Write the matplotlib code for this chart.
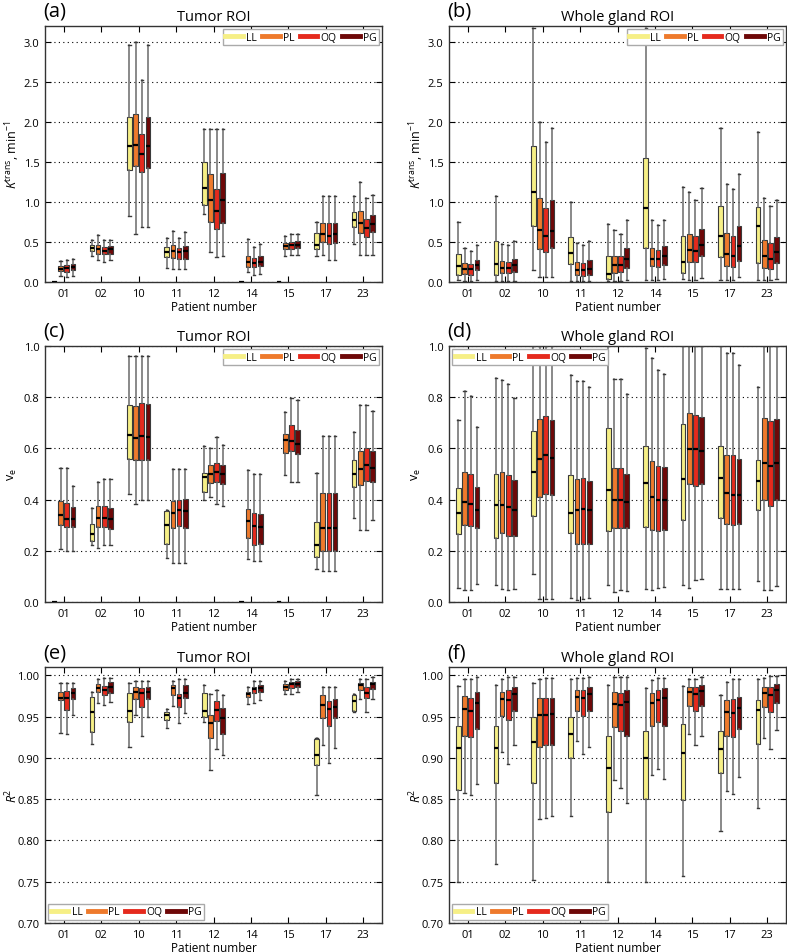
import matplotlib
matplotlib.use("Agg")
import matplotlib.pyplot as plt
from matplotlib.lines import Line2D
import numpy as np

plt.rcParams['font.family'] = ['Open Sans', 'DejaVu Sans']
plt.rcParams['mathtext.fontset'] = 'custom'
plt.rcParams['mathtext.rm'] = 'Open Sans'
plt.rcParams['mathtext.it'] = 'Open Sans:italic'

patients = ['01', '02', '10', '11', '12', '14', '15', '17', '23']
methods = ['LL', 'PL', 'OQ', 'PG']
colors = ['#f6ef86', '#ee7a2c', '#e52a1d', '#6e0808']

# each entry: [whisker_low, q1, median, q3, whisker_high]; None = not shown
# ---- (a) Tumor ROI, Ktrans
a_LL = [[0, 0, 0, 0, 0], [0.33, 0.386, 0.424, 0.457, 0.52], [0.82, 1.40, 1.70, 2.06, 2.96],
        [0.175, 0.31, 0.38, 0.44, 0.55], [0.85, 0.965, 1.18, 1.50, 1.91], [0, 0, 0, 0, 0],
        [0, 0, 0, 0, 0], [0.32, 0.407, 0.457, 0.61, 0.756], [0.478, 0.686, 0.78, 0.873, 1.08]]
a_PL = [[0.075, 0.133, 0.166, 0.195, 0.26], [0.27, 0.353, 0.41, 0.457, 0.59], [0.60, 1.45, 1.71, 2.10, 3.0],
        [0.16, 0.30, 0.39, 0.465, 0.64], [0.37, 0.75, 1.03, 1.35, 1.91], [0.125, 0.19, 0.25, 0.33, 0.54],
        [0.32, 0.407, 0.45, 0.486, 0.58], [0.34, 0.50, 0.60, 0.74, 1.08], [0.34, 0.61, 0.74, 0.886, 1.25]]
a_OQ = [[0.06, 0.13, 0.175, 0.21, 0.27], [0.25, 0.353, 0.386, 0.437, 0.52], [0.69, 1.37, 1.60, 1.85, 2.53],
        [0.16, 0.29, 0.37, 0.42, 0.55], [0.31, 0.66, 0.885, 1.16, 1.91], [0.083, 0.19, 0.24, 0.30, 0.44],
        [0.34, 0.407, 0.457, 0.50, 0.60], [0.27, 0.474, 0.574, 0.74, 1.08], [0.34, 0.557, 0.67, 0.79, 1.05]]
a_PG = [[0.08, 0.145, 0.19, 0.22, 0.29], [0.27, 0.353, 0.41, 0.45, 0.53], [0.69, 1.43, 1.70, 2.06, 2.96],
        [0.16, 0.29, 0.39, 0.445, 0.63], [0.33, 0.74, 1.03, 1.36, 1.91], [0.10, 0.195, 0.25, 0.32, 0.47],
        [0.34, 0.424, 0.465, 0.51, 0.60], [0.27, 0.486, 0.60, 0.74, 1.08], [0.34, 0.62, 0.72, 0.84, 1.09]]

# ---- (b) Whole gland ROI, Ktrans
b_LL = [[0.02, 0.083, 0.20, 0.353, 0.75], [0.01, 0.09, 0.224, 0.51, 1.07], [0.145, 0.706, 1.13, 1.70, 3.17],
        [0.01, 0.22, 0.357, 0.557, 1.0], [0.01, 0.04, 0.10, 0.32, 0.72], [0.02, 0.43, 0.92, 1.545, 3.17],
        [0.04, 0.116, 0.25, 0.57, 1.185], [0.02, 0.31, 0.574, 0.956, 1.93], [0.02, 0.237, 0.694, 0.935, 1.87]]
b_PL = [[0.01, 0.104, 0.166, 0.237, 0.42], [0.01, 0.116, 0.18, 0.26, 0.47], [0.06, 0.41, 0.645, 1.05, 2.0],
        [0.01, 0.083, 0.145, 0.25, 0.49], [0.01, 0.116, 0.21, 0.33, 0.644], [0.02, 0.195, 0.29, 0.42, 0.78],
        [0.02, 0.25, 0.395, 0.60, 1.12], [0.02, 0.195, 0.353, 0.61, 1.23], [0.02, 0.175, 0.32, 0.53, 1.05]]
b_OQ = [[0.01, 0.09, 0.166, 0.22, 0.39], [0.01, 0.116, 0.175, 0.25, 0.457], [0.06, 0.375, 0.58, 0.93, 1.75],
        [0.01, 0.075, 0.145, 0.237, 0.465], [0.01, 0.125, 0.21, 0.324, 0.60], [0.02, 0.187, 0.283, 0.395, 0.707],
        [0.02, 0.25, 0.386, 0.57, 1.03], [0.02, 0.187, 0.33, 0.58, 1.16], [0.02, 0.166, 0.29, 0.486, 0.95]]
b_PG = [[0.02, 0.145, 0.216, 0.28, 0.465], [0.01, 0.13, 0.21, 0.29, 0.515], [0.06, 0.42, 0.64, 1.02, 1.92],
        [0.01, 0.09, 0.166, 0.27, 0.507], [0.02, 0.175, 0.29, 0.42, 0.77], [0.04, 0.208, 0.32, 0.445, 0.78],
        [0.05, 0.32, 0.465, 0.665, 1.17], [0.06, 0.26, 0.45, 0.70, 1.35], [0.04, 0.237, 0.374, 0.557, 1.03]]

# ---- (c) Tumor ROI, ve
c_LL = [[0, 0, 0, 0, 0], [0.221, 0.238, 0.264, 0.303, 0.367], [0.423, 0.56, 0.651, 0.768, 0.96],
        [0.172, 0.228, 0.30, 0.355, 0.36], [0.40, 0.43, 0.488, 0.504, 0.61], [0, 0, 0, 0, 0],
        [0, 0, 0, 0, 0], [0.13, 0.176, 0.221, 0.3125, 0.504], [0.329, 0.449, 0.499, 0.553, 0.664]]
c_PL = [[0.208, 0.30, 0.339, 0.395, 0.523], [0.212, 0.293, 0.33, 0.374, 0.469], [0.384, 0.553, 0.642, 0.766, 0.96],
        [0.152, 0.29, 0.349, 0.393, 0.52], [0.41, 0.465, 0.499, 0.534, 0.60], [0.169, 0.251, 0.316, 0.365, 0.514],
        [0.495, 0.583, 0.634, 0.658, 0.742], [0.12, 0.20, 0.29, 0.426, 0.648], [0.283, 0.458, 0.521, 0.589, 0.768]]
c_OQ = [[0.20, 0.293, 0.326, 0.388, 0.523], [0.224, 0.293, 0.33, 0.375, 0.482], [0.40, 0.556, 0.647, 0.779, 0.96],
        [0.152, 0.297, 0.36, 0.40, 0.52], [0.381, 0.469, 0.508, 0.543, 0.645], [0.16, 0.224, 0.296, 0.349, 0.499],
        [0.469, 0.589, 0.628, 0.69, 0.797], [0.12, 0.20, 0.29, 0.426, 0.648], [0.283, 0.471, 0.536, 0.602, 0.768]]
c_PG = [[0.20, 0.293, 0.326, 0.371, 0.453], [0.224, 0.286, 0.326, 0.368, 0.482], [0.40, 0.556, 0.645, 0.772, 0.96],
        [0.152, 0.289, 0.355, 0.404, 0.52], [0.374, 0.462, 0.501, 0.536, 0.615], [0.16, 0.228, 0.293, 0.345, 0.499],
        [0.469, 0.579, 0.618, 0.673, 0.788], [0.12, 0.20, 0.29, 0.426, 0.648], [0.319, 0.469, 0.525, 0.589, 0.746]]

# ---- (d) Whole gland ROI, ve
d_LL = [[0.055, 0.264, 0.348, 0.445, 0.71], [0.065, 0.25, 0.38, 0.501, 0.876], [0.11, 0.335, 0.508, 0.668, 1.0],
        [0.016, 0.27, 0.349, 0.497, 0.885], [0.065, 0.277, 0.436, 0.68, 1.0], [0.052, 0.293, 0.465, 0.608, 0.992],
        [0.065, 0.322, 0.479, 0.694, 1.0], [0.052, 0.329, 0.486, 0.608, 1.0], [0.082, 0.361, 0.473, 0.556, 0.84]]
d_PL = [[0.046, 0.30, 0.39, 0.508, 0.823], [0.052, 0.27, 0.38, 0.508, 0.866], [0.01, 0.41, 0.56, 0.716, 1.0],
        [0.009, 0.225, 0.358, 0.482, 0.862], [0.039, 0.289, 0.397, 0.523, 0.87], [0.046, 0.28, 0.41, 0.549, 0.953],
        [0.056, 0.46, 0.599, 0.738, 1.0], [0.052, 0.306, 0.426, 0.576, 0.974], [0.046, 0.40, 0.544, 0.72, 1.0]]
d_OQ = [[0.046, 0.296, 0.384, 0.499, 0.803], [0.046, 0.258, 0.371, 0.497, 0.853], [0.01, 0.42, 0.573, 0.725, 1.0],
        [0.013, 0.228, 0.362, 0.484, 0.862], [0.048, 0.289, 0.397, 0.523, 0.87], [0.056, 0.277, 0.397, 0.53, 0.905],
        [0.085, 0.453, 0.596, 0.732, 1.0], [0.052, 0.302, 0.419, 0.573, 0.974], [0.046, 0.374, 0.53, 0.706, 1.0]]
d_PG = [[0.069, 0.289, 0.361, 0.449, 0.684], [0.052, 0.258, 0.361, 0.478, 0.797], [0.01, 0.417, 0.564, 0.712, 1.0],
        [0.016, 0.228, 0.358, 0.473, 0.84], [0.042, 0.289, 0.39, 0.501, 0.814], [0.059, 0.28, 0.397, 0.527, 0.892],
        [0.089, 0.46, 0.59, 0.723, 1.0], [0.052, 0.306, 0.417, 0.557, 0.927], [0.061, 0.40, 0.544, 0.716, 1.0]]

# ---- (e) Tumor ROI, R2
e_LL = [None, [0.917, 0.931, 0.955, 0.974, 0.980], [0.913, 0.943, 0.957, 0.979, 0.991],
        [0.936, 0.946, 0.952, 0.956, 0.959], [0.944, 0.950, 0.957, 0.978, 0.988], None,
        None, [0.855, 0.891, 0.903, 0.923, 0.924], [0.956, 0.957, 0.969, 0.976, 0.977]]
e_PL = [[0.930, 0.970, 0.972, 0.980, 0.991], [0.966, 0.980, 0.984, 0.989, 0.996], [0.952, 0.971, 0.980, 0.986, 0.993],
        [0.963, 0.976, 0.984, 0.988, 0.993], [0.885, 0.924, 0.942, 0.952, 0.977], [0.965, 0.974, 0.977, 0.980, 0.986],
        [0.977, 0.982, 0.986, 0.989, 0.993], [0.915, 0.948, 0.964, 0.976, 0.986], [0.971, 0.982, 0.988, 0.991, 0.996]]
e_OQ = [[0.929, 0.958, 0.972, 0.981, 0.991], [0.964, 0.976, 0.982, 0.987, 0.997], [0.927, 0.961, 0.978, 0.985, 0.993],
        [0.942, 0.962, 0.972, 0.977, 0.995], [0.911, 0.945, 0.958, 0.969, 0.982], [0.967, 0.978, 0.983, 0.986, 0.993],
        [0.977, 0.985, 0.990, 0.992, 0.995], [0.894, 0.938, 0.959, 0.969, 0.986], [0.956, 0.972, 0.979, 0.986, 0.996]]
e_PG = [[0.952, 0.971, 0.978, 0.984, 0.991], [0.968, 0.979, 0.986, 0.992, 0.997], [0.950, 0.971, 0.980, 0.986, 0.993],
        [0.954, 0.972, 0.979, 0.988, 0.995], [0.903, 0.929, 0.948, 0.960, 0.976], [0.970, 0.980, 0.984, 0.988, 0.993],
        [0.980, 0.986, 0.990, 0.993, 0.995], [0.912, 0.948, 0.962, 0.971, 0.986], [0.971, 0.983, 0.989, 0.992, 0.998]]

# ---- (f) Whole gland ROI, R2
f_LL = [[0.750, 0.861, 0.912, 0.939, 0.987], [0.772, 0.869, 0.9125, 0.938, 0.988], [0.752, 0.869, 0.919, 0.949, 0.991],
        [0.829, 0.900, 0.929, 0.949, 0.996], [0.750, 0.835, 0.8875, 0.927, 0.988], [0.750, 0.850, 0.900, 0.932, 0.985],
        [0.757, 0.849, 0.906, 0.941, 0.987], [0.811, 0.882, 0.911, 0.933, 0.976], [0.839, 0.917, 0.958, 0.970, 0.995]]
f_PL = [[0.857, 0.927, 0.959, 0.975, 0.995], [0.907, 0.951, 0.971, 0.980, 0.996], [0.826, 0.913, 0.952, 0.972, 0.996],
        [0.920, 0.957, 0.974, 0.982, 0.997], [0.873, 0.937, 0.965, 0.980, 0.998], [0.879, 0.938, 0.967, 0.978, 0.994],
        [0.929, 0.963, 0.980, 0.986, 0.996], [0.860, 0.926, 0.955, 0.970, 0.992], [0.924, 0.961, 0.979, 0.986, 0.997]]
f_OQ = [[0.855, 0.925, 0.957, 0.973, 0.996], [0.892, 0.946, 0.970, 0.982, 0.998], [0.827, 0.915, 0.952, 0.972, 0.997],
        [0.905, 0.951, 0.972, 0.982, 0.997], [0.863, 0.932, 0.964, 0.979, 0.998], [0.887, 0.944, 0.970, 0.982, 0.997],
        [0.915, 0.957, 0.977, 0.986, 0.996], [0.856, 0.925, 0.954, 0.971, 0.996], [0.911, 0.956, 0.976, 0.986, 0.999]]
f_PG = [[0.868, 0.935, 0.966, 0.980, 0.998], [0.915, 0.957, 0.977, 0.986, 0.998], [0.830, 0.915, 0.953, 0.973, 0.997],
        [0.913, 0.957, 0.977, 0.986, 0.998], [0.845, 0.927, 0.968, 0.982, 0.998], [0.874, 0.939, 0.972, 0.984, 0.997],
        [0.926, 0.963, 0.981, 0.988, 0.998], [0.877, 0.935, 0.960, 0.974, 0.996], [0.934, 0.967, 0.982, 0.990, 0.999]]

panels = [
    ('(a)', 'Tumor ROI', [a_LL, a_PL, a_OQ, a_PG], r'$K^{\mathrm{trans}}$, min$^{-1}$', 'k', 'upper right'),
    ('(b)', 'Whole gland ROI', [b_LL, b_PL, b_OQ, b_PG], r'$K^{\mathrm{trans}}$, min$^{-1}$', 'k', 'upper right'),
    ('(c)', 'Tumor ROI', [c_LL, c_PL, c_OQ, c_PG], r'v$_{\mathrm{e}}$', 'v', 'upper right'),
    ('(d)', 'Whole gland ROI', [d_LL, d_PL, d_OQ, d_PG], r'v$_{\mathrm{e}}$', 'v', 'upper left'),
    ('(e)', 'Tumor ROI', [e_LL, e_PL, e_OQ, e_PG], r'$R^{2}$', 'r', 'lower left'),
    ('(f)', 'Whole gland ROI', [f_LL, f_PL, f_OQ, f_PG], r'$R^{2}$', 'r', 'lower left'),
]

fig = plt.figure(figsize=(7.87, 9.53), dpi=100)
W, H = 787.0, 953.0
lefts = [45, 449]
tops = [27, 347, 668]
aw, ah = 337, 256

spacing = 0.165
bwidth = 0.125

for idx, (plabel, title, series, ylabel, kind, legloc) in enumerate(panels):
    r, c = divmod(idx, 2)
    ax = fig.add_axes([lefts[c] / W, 1 - (tops[r] + ah) / H, aw / W, ah / H])
    for j, (data, col) in enumerate(zip(series, colors)):
        stats, pos = [], []
        for i, d in enumerate(data):
            if d is None:
                continue
            stats.append(dict(whislo=d[0], q1=d[1], med=d[2], q3=d[3], whishi=d[4], fliers=[]))
            pos.append(i + 1 + (j - 1.5) * spacing)
        ax.bxp(stats, positions=pos, widths=bwidth, patch_artist=True, showfliers=False,
               boxprops=dict(facecolor=col, edgecolor='#3a3a3a', linewidth=0.8),
               medianprops=dict(color='black', linewidth=1.6),
               whiskerprops=dict(color='#6a6a6a', linewidth=1.1, linestyle='-'),
               capprops=dict(color='#3a3a3a', linewidth=1.0),
               manage_ticks=False, zorder=3)
    ax.set_xlim(0.5, 9.5)
    ax.set_xticks(np.arange(1, 10))
    ax.set_xticklabels(patients)
    if kind == 'k':
        ax.set_ylim(0, 3.2)
        yt = np.arange(0, 3.01, 0.5)
        ax.set_yticks(yt)
        ax.set_yticklabels([f'{v:.1f}' for v in yt])
    elif kind == 'v':
        ax.set_ylim(0, 1.0)
        yt = np.arange(0, 1.01, 0.2)
        ax.set_yticks(yt)
        ax.set_yticklabels([f'{v:.1f}' for v in yt])
    else:
        ax.set_ylim(0.70, 1.01)
        yt = np.arange(0.70, 1.001, 0.05)
        ax.set_yticks(yt)
        ax.set_yticklabels([f'{v:.2f}' for v in yt])
    ax.yaxis.grid(True, linestyle=(0, (1, 3)), color='black', linewidth=0.8, zorder=0)
    ax.set_axisbelow(True)
    ax.tick_params(direction='in', top=True, right=True, length=4, width=0.8,
                   labelsize=8, colors='black', pad=4)
    for s in ax.spines.values():
        s.set_color('#333333')
        s.set_linewidth(1.0)
    ax.set_xlabel('Patient number', fontsize=8.5, labelpad=1)
    ax.set_ylabel(ylabel, fontsize=9, va='center')
    ax.yaxis.set_label_coords(-0.097, 0.5)
    ax.set_title(title, fontsize=10.5, pad=4)
    fig.text((lefts[c] - 2) / W, 1 - (tops[r] - 25) / H, plabel, fontsize=14.5,
             ha='left', va='top')
    handles = [Line2D([0], [0], color=col, lw=3.5) for col in colors]
    leg = ax.legend(handles, methods, loc=legloc, ncol=4, fontsize=7.5, handlelength=1.7,
                    handletextpad=0.3, columnspacing=0.5, borderpad=0.25, borderaxespad=0.3,
                    fancybox=False, framealpha=1.0, edgecolor='#aaaaaa')
    leg.set_zorder(10)

fig.savefig('out.png', dpi=100)
